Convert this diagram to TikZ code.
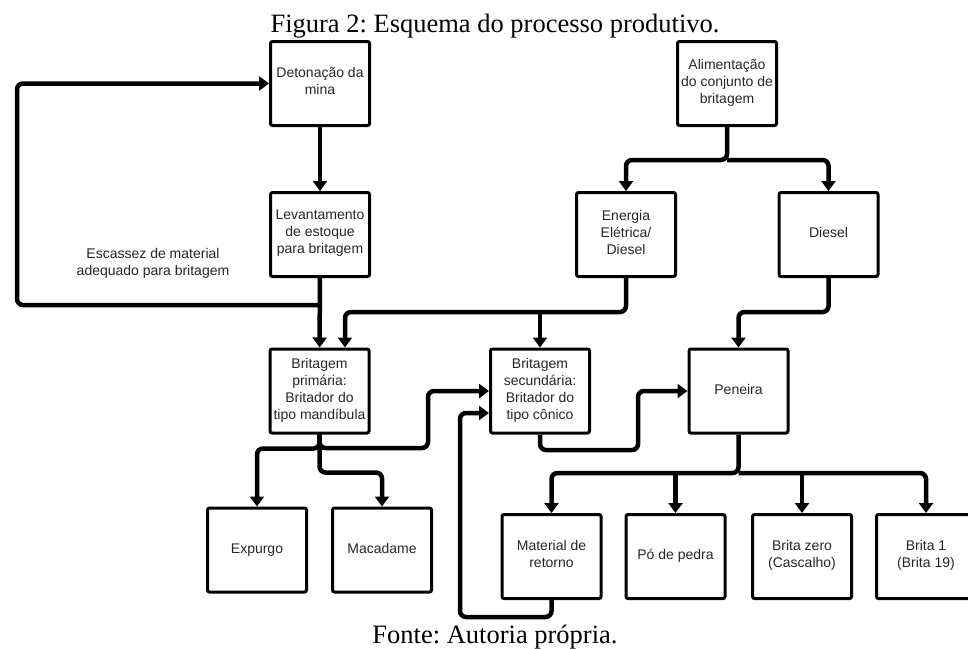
\documentclass[tikz,border=0pt]{standalone}
\usepackage{fontspec}
\setmainfont{Liberation Serif}
\newfontfamily\arialfont{Liberation Sans}
\usetikzlibrary{arrows.meta}
\tikzset{>={Triangle[width=14pt,length=10pt]}}
\frenchspacing

\begin{document}
\begin{tikzpicture}[x=1pt,y=-1pt,
  caixa/.style={draw,line width=3pt,rounded corners=2pt,minimum width=99pt,minimum height=84pt,
    inner sep=1pt,align=center,font=\arialfont\fontsize{14}{17}\selectfont,text=black!85,
    execute at begin node=\strut,execute at end node=\strut},
  liga/.style={line width=4.5pt,rounded corners=6pt,->}]
\useasboundingbox (0,0) rectangle (968,648);
\node[anchor=base,font=\fontsize{26.5}{30}\selectfont] (tit) at (495,32) {Figura 2: Esquema do processo produtivo.};
\node[anchor=base,font=\fontsize{26.5}{30}\selectfont] (fon) at (495,643) {Fonte: Autoria própria.};
% caixas
\node[caixa] (det) at (320,83.5) {Detonação da\\mina};
\node[caixa] (lev) at (320,234.5) {Levantamento\\de estoque\\para britagem};
\node[caixa] (ali) at (727,83.5) {Alimentação\\do conjunto de\\britagem};
\node[caixa] (ene) at (626,234.5) {Energia\\Elétrica/\\Diesel};
\node[caixa] (die) at (828.5,234.5) {Diesel};
\node[caixa] (pri) at (319.5,391) {Britagem\\primária:\\Britador do\\tipo mandíbula};
\node[caixa] (sec) at (540,391) {Britagem\\secundária:\\Britador do\\tipo cônico};
\node[caixa] (pen) at (738.5,391) {Peneira};
\node[caixa] (exp) at (257,550) {Expurgo};
\node[caixa] (mac) at (382,550) {Macadame};
\node[caixa] (ret) at (551.5,556.5) {Material de\\retorno};
\node[caixa] (po) at (675.5,556.5) {Pó de pedra};
\node[caixa] (bz) at (802,556.5) {Brita zero\\(Cascalho)};
\node[caixa] (b1) at (926,556.5) {Brita 1\\(Brita 19)};
\node[align=center,font=\arialfont\fontsize{14}{17}\selectfont,text=black!85] (esc) at (153,263)
  {Escassez de material\\adequado para britagem};
% ligacoes
\coordinate (lp) at (320,305);
\coordinate (ab) at (727,160);
\coordinate (pb) at (738.5,473);
\draw[liga] (det) -- (lev);
\draw[liga] (lev) -- (pri);
\draw[liga] (lp) -| ([xshift=-252pt]det.west) -- (det.west);
\draw[liga] (ali.south) -- (ab) -| (ene.north);
\draw[liga] (ab) -| (die.north);
\draw[liga] (ene.south) -- ++(0,34) -| ([xshift=25.5pt]pri.north);
\draw[liga] ([yshift=36pt]sec.north) -- (sec.north);
\draw[liga] (die.south) -- ++(0,34) -| (pen.north);
\draw[liga] (pri.south) -- ++(0,14) -| (exp.north);
\draw[liga] (pri.south) |- (428,448) |- (sec.west);
\draw[liga] (pri.south) -- ++(0,38) -| (mac.north);
\draw[liga] (ret.south) -- ++(0,17) -| (460,413) -- ([yshift=-22pt]sec.west);
\draw[liga] (sec.south) |- (638,450) |- (pen.west);
\draw[liga] (pen.south) -- (pb) -| (ret.north);
\draw[liga] (pb) -| (b1.north);
\draw[liga] (po.north |- pb) -- (po.north);
\draw[liga] (bz.north |- pb) -- (bz.north);
\end{tikzpicture}
\end{document}
